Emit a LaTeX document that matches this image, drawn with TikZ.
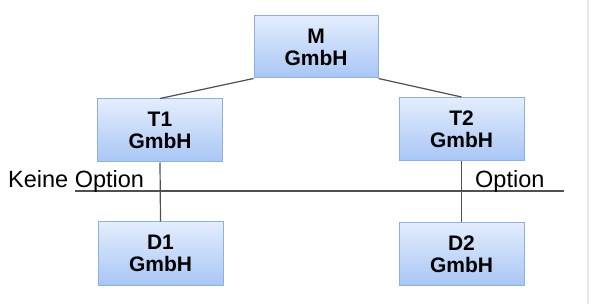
\documentclass[tikz,border=0pt]{standalone}
\usepackage{fontspec}
\setmainfont{Liberation Sans}
\definecolor{boxtop}{RGB}{228,237,253}
\definecolor{boxbot}{RGB}{168,198,245}
\definecolor{boxline}{RGB}{140,178,228}
\definecolor{conn}{RGB}{80,80,80}
\definecolor{edge}{RGB}{232,232,232}
\tikzset{
  company/.style={draw=boxline, line width=1pt, top color=boxtop, bottom color=boxbot,
    minimum width=125pt, minimum height=63pt, inner sep=0pt, align=center,
    font=\bfseries\fontsize{21}{22}\selectfont},
  conline/.style={draw=conn, line width=1.2pt},
  label/.style={inner sep=0pt, font=\fontsize{23.5}{25}\selectfont},
}
\begin{document}
\begin{tikzpicture}[x=1pt,y=-1pt]
\useasboundingbox (0,0) rectangle (591,304);
\fill[white] (0,0) rectangle (591,304);
\draw[edge, line width=1.2pt] (588,0) -- (588,304);
\node[company, minimum width=124pt, minimum height=62pt] (m) at (316,47) {M\\GmbH};
\node[company] (t1) at (160,130.5) {T1\\GmbH};
\node[company] (t2) at (461.5,129) {T2\\GmbH};
\node[company] (d1) at (160.5,253.5) {D1\\GmbH};
\node[company] (d2) at (461.5,254) {D2\\GmbH};
\draw[conline] (m.south west) -- (t1.north);
\draw[conline] (m.south east) -- (t2.north);
\draw[conline] (t1.south) -- (d1.north);
\draw[conline] (t2.south) -- (d2.north);
\coordinate (hl) at (75,191);
\coordinate (hr) at (564,191);
\draw[conn, line width=1.5pt] (hl) -- (hr);
\node[label, anchor=base west] (keine) at (8,188) {Keine Option};
\node[label, anchor=base west] (opt) at (475,188) {Option};
\end{tikzpicture}
\end{document}
